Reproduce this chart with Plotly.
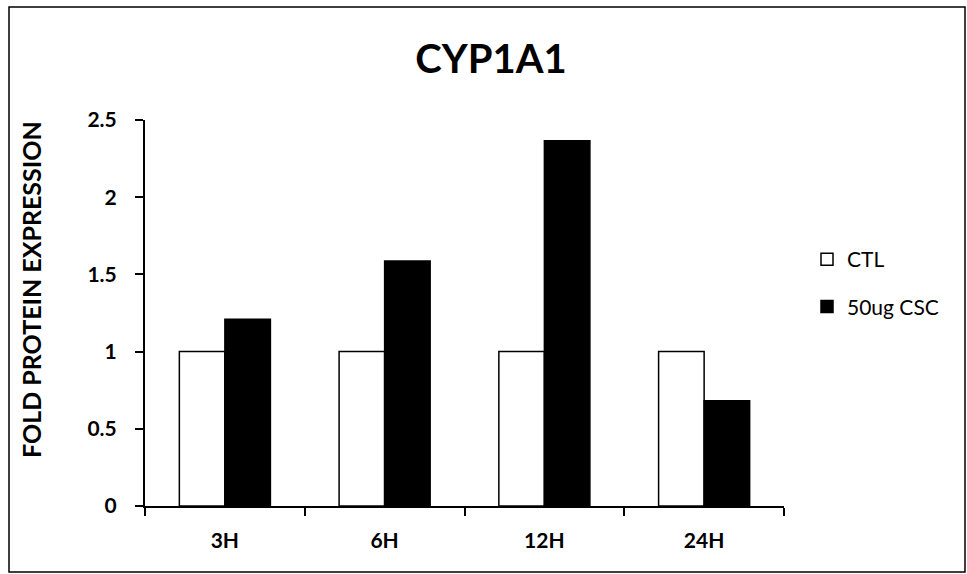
import plotly.graph_objects as go

categories = ["3H", "6H", "12H", "24H"]
ctl_values = [1.0, 1.0, 1.0, 1.0]
csc_values = [1.21, 1.587, 2.366, 0.682]
series_names = ["CTL", "50ug CSC"]
y_ticks = [0, 0.5, 1, 1.5, 2, 2.5]
y_tick_labels = ["0", "0.5", "1", "1.5", "2", "2.5"]

W, H = 967, 574
L, R, T, B = 145, 183, 120, 68
pw, ph = W - L - R, H - T - B

def px(x):
    return (x - L) / pw

def py(y):
    return (H - B - y) / ph

FONT = "Lato"

fig = go.Figure()
fig.add_trace(go.Bar(
    x=categories, y=ctl_values, name=series_names[0], legendgroup="a",
    marker=dict(color="white", line=dict(color="black", width=1.5)),
))
fig.add_trace(go.Bar(
    x=categories, y=csc_values, name=series_names[1], legendgroup="b",
    marker=dict(color="black", line=dict(color="black", width=1.5)),
))

fig.update_layout(
    width=W, height=H,
    margin=dict(l=L, r=R, t=T, b=B),
    paper_bgcolor="white", plot_bgcolor="white",
    barmode="group", bargap=0.43, bargroupgap=0,
    font=dict(family=FONT, color="black", size=16),
    title=dict(text="<b>CYP1A1</b>", x=px(491), xref="paper", xanchor="center",
               y=1 - 59 / H, yanchor="middle", font=dict(size=40, family=FONT)),
    legend=dict(x=px(807), y=py(239), xanchor="left", yanchor="top",
                font=dict(size=21, family=FONT), tracegroupgap=17,
                itemwidth=30, bgcolor="rgba(0,0,0,0)"),
    showlegend=True,
)
fig.update_xaxes(
    showline=True, linecolor="black", linewidth=2,
    ticks="outside", tickson="boundaries", ticklen=8, tickwidth=2, tickcolor="black",
    tickfont=dict(size=21, family=FONT, weight="bold"), ticklabelstandoff=15,
    showgrid=False, zeroline=False,
)
fig.update_yaxes(
    range=[0, 2.5], tickvals=y_ticks, ticktext=y_tick_labels,
    showline=True, linecolor="black", linewidth=2,
    ticks="outside", ticklen=8, tickwidth=2, tickcolor="black",
    tickfont=dict(size=21, family=FONT, weight="bold"), ticklabelstandoff=14,
    showgrid=False, zeroline=False,
)
fig.add_annotation(
    text="<b>FOLD PROTEIN EXPRESSION</b>", xref="paper", yref="paper",
    x=px(31), y=py(290), xanchor="center", yanchor="middle",
    textangle=-90, showarrow=False, font=dict(size=25, family=FONT),
)
fig.add_shape(type="rect", xref="paper", yref="paper",
              x0=px(9), x1=px(965), y0=py(572), y1=py(7),
              line=dict(color="black", width=1.5), fillcolor="rgba(0,0,0,0)", layer="below")

fig.write_html("out.html")
